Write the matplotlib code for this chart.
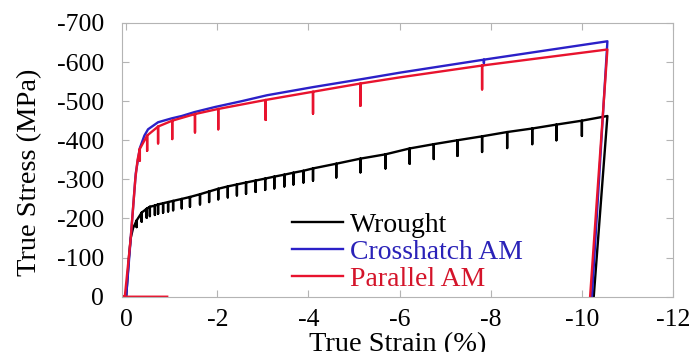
import numpy as np
import matplotlib.pyplot as plt

plt.rcParams['font.family'] = ['Liberation Serif', 'DejaVu Serif']
plt.rcParams['axes.unicode_minus'] = False

# curve vertices: strain (%), stress (MPa), and bottom of the relaxation dip (nan = no dip)
wr_strain = [0, -0.03, -0.06, -0.10, -0.15, -0.23, -0.34, -0.45, -0.52, -0.63, -0.70, -0.81,
             -0.92, -1.03, -1.22, -1.40, -1.62, -1.82, -2.02, -2.23, -2.43, -2.63, -2.84,
             -3.05, -3.25, -3.47, -3.67, -3.89, -4.10, -4.61, -5.14, -5.69, -6.22, -6.75,
             -7.27, -7.81, -8.36, -8.91, -9.44, -10.00, -10.56, -10.26]
wr_stress = [0, -50, -100, -150, -175, -195, -215, -225, -230, -233, -236, -239,
             -242, -245, -250, -255, -262, -269, -276, -282, -287, -292, -297,
             -302, -307, -312, -317, -322, -328, -340, -353, -364, -379, -390,
             -400, -410, -421, -430, -440, -450, -462, 0]
wr_dip = [np.nan, np.nan, np.nan, np.nan, np.nan, -178, -192, -202, -206, -209, -212, -215,
          -218, -221, -226, -230, -236, -242, -249, -254, -259, -263, -268,
          -273, -277, -282, -287, -292, -297, -305, -318, -328, -340, -352,
          -360, -370, -380, -390, -400, -411, np.nan, np.nan]

ch_strain = [0, -0.10, -0.21, -0.30, -0.40, -0.48, -0.70, -1.00, -1.22, -1.50, -1.95, -2.54,
             -3.09, -4.11, -5.21, -6.02, -7.85, -10.56, -10.22]
ch_stress = [0, -150, -315, -380, -412, -428, -446, -456, -462, -472, -485, -500,
             -515, -536, -557, -573, -606, -653, 0]
ch_dip = [np.nan] * 16 + [-597, np.nan, np.nan]

pa_strain = [-0.90, 0.10, 0.03, -0.10, -0.20, -0.25, -0.30, -0.46, -0.70, -1.01, -1.51, -2.02,
             -3.06, -4.10, -5.14, -6.02, -7.81, -10.56, -10.18]
pa_stress = [0, 0, 0, -150, -300, -350, -378, -412, -435, -450, -467, -480,
             -503, -524, -545, -561, -591, -632, 0]
pa_dip = [np.nan] * 6 + [-348, -373, -392, -403, -420, -428,
                         -452, -468, -488, np.nan, -530, np.nan, np.nan]


def with_dips(strain, stress, dip):
    xs, ys = [], []
    for s, y, d in zip(strain, stress, dip):
        xs.append(s)
        ys.append(y)
        if not np.isnan(d):
            xs += [s, s]
            ys += [d, y]
    return xs, ys


fig = plt.figure(figsize=(6.91, 3.52), dpi=100)
ax = fig.add_axes([0.176, 0.157, 0.798, 0.778])

blue = '#2b20c8'
red = '#e8132e'

x, y = with_dips(wr_strain, wr_stress, wr_dip)
ax.plot(x, y, color='black', lw=1.7, label='Wrought')
x, y = with_dips(ch_strain, ch_stress, ch_dip)
ax.plot(x, y, color=blue, lw=1.7, label='Crosshatch AM')
x, y = with_dips(pa_strain, pa_stress, pa_dip)
ax.plot(x, y, color=red, lw=1.7, label='Parallel AM')

ax.set_xlim(0.1, -12)
ax.set_ylim(0, -700)
ax.set_xticks(np.arange(0, -13, -2))
ax.set_yticks(np.arange(0, -701, -100))

for sp in ax.spines.values():
    sp.set_color('#b4b4b4')
ax.tick_params(direction='in', length=5, color='#b4b4b4', top=True, right=True,
               labelsize=18.5)
ax.tick_params(axis='x', pad=8.5)
ax.tick_params(axis='y', pad=12.5)

ax.set_xlabel('True Strain (%)', fontsize=20.5)
ax.set_ylabel('True Stress (MPa)', fontsize=20.5)
ax.xaxis.set_label_coords(0.5, -0.13)
ax.yaxis.set_label_coords(-0.145, 0.456)

leg = ax.legend(loc='center left', bbox_to_anchor=(0.309, 0.163), frameon=False,
                fontsize=20, handlelength=1.84, handletextpad=0.25, labelspacing=0.06,
                borderpad=0, borderaxespad=0,
                labelcolor=['black', '#2a22b8', '#d4142a'])

fig.savefig('out.png', dpi=100)
